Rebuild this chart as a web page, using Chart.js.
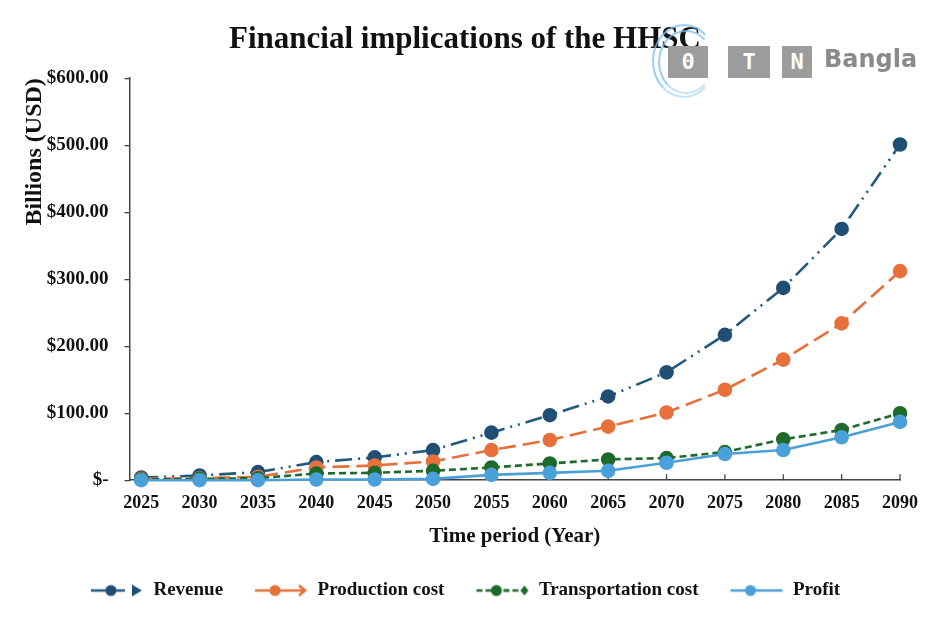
<!DOCTYPE html>
<html>
<head>
<meta charset="utf-8">
<script src="https://cdn.jsdelivr.net/npm/chart.js@4.4.1/dist/chart.umd.min.js"></script>
<style>
  html, body { margin: 0; padding: 0; background: #fff; }
  #wrap { position: relative; width: 930px; height: 620px; }
  #wm { position: absolute; left: 650px; top: 18px; width: 280px; height: 80px; pointer-events: none; }
  .ring { position: absolute; border-radius: 50%; border: 2px solid rgba(120,190,240,0.75); border-right-color: transparent; border-bottom-color: rgba(120,190,240,0.45); }
  .box { position: absolute; top: 28px; height: 32px; background: #9c9c9c; color: #fff; font: bold 22px "DejaVu Sans Mono", monospace; text-align: center; line-height: 32px; }
  .bangla { position: absolute; left: 174px; top: 27px; font: bold 24px "DejaVu Sans", sans-serif; color: #8a8a8a; }
</style>
</head>
<body>
<div id="wrap">
  <canvas id="c" width="930" height="620"></canvas>
  <div id="wm">
    <div class="ring" style="left:2px;top:6px;width:60px;height:70px;"></div>
    <div class="ring" style="left:8px;top:12px;width:52px;height:60px;"></div>
    <div class="box" style="left:18px;width:40px;">0</div>
    <div class="box" style="left:78px;width:42px;">T</div>
    <div class="box" style="left:132px;width:30px;">N</div>
    <div class="bangla">Bangla</div>
  </div>
</div>
<script>
const years = [2025, 2030, 2035, 2040, 2045, 2050, 2055, 2060, 2065, 2070, 2075, 2080, 2085, 2090];
const revenue = [4, 7, 12, 27, 34, 45, 71, 97, 125, 161, 217, 287, 375, 501];
const productionCost = [2, 3, 5, 19, 22, 28, 45, 60, 80, 101, 135, 180, 234, 312];
const transportationCost = [1, 2, 3, 10, 11, 14, 19, 25, 31, 33, 42, 61, 75, 100];
const profit = [0, 0, 0, 1, 1, 2, 8, 11, 14, 26, 39, 45, 64, 87];
const yTicks = [0, 100, 200, 300, 400, 500, 600];

const seriesNames = ['Revenue', 'Production cost', 'Transportation cost', 'Profit'];
const seriesValues = [revenue, productionCost, transportationCost, profit];
const lineColors = ['#215a7d', '#e5703b', '#1f6a2c', '#4a9fd6'];
const pointColors = ['#1f4f75', '#e8703a', '#1d6a2a', '#4aa0da'];
const dashes = [[17, 6, 2, 6, 2, 6], [17, 7], [7, 4], []];

function legendIcon(i) {
  const cv = document.createElement('canvas');
  cv.width = 54; cv.height = 16;
  const g = cv.getContext('2d');
  g.strokeStyle = lineColors[i];
  g.lineWidth = 2.6;
  g.setLineDash(i === 2 ? [6, 3] : []);
  g.beginPath(); g.moveTo(1, 8); g.lineTo(i === 3 ? 53 : 35, 8); g.stroke();
  g.setLineDash([]);
  g.fillStyle = pointColors[i];
  g.beginPath(); g.arc(21, 8, 5.5, 0, Math.PI * 2); g.fill();
  if (i === 0) {
    g.beginPath(); g.moveTo(42, 2); g.lineTo(52, 8); g.lineTo(42, 14); g.closePath(); g.fill();
  } else if (i === 1) {
    g.strokeStyle = lineColors[i]; g.lineWidth = 2.6;
    g.beginPath(); g.moveTo(35, 8); g.lineTo(51, 8); g.moveTo(45, 3); g.lineTo(51, 8); g.lineTo(45, 13); g.stroke();
  } else if (i === 2) {
    g.strokeStyle = lineColors[i];
    g.setLineDash([6, 3]);
    g.beginPath(); g.moveTo(28, 8); g.lineTo(45, 8); g.stroke();
    g.setLineDash([]);
    g.beginPath(); g.moveTo(49, 3); g.lineTo(53, 8); g.lineTo(49, 13); g.lineTo(45, 8); g.closePath(); g.fill();
  }
  return cv;
}
const icons = seriesNames.map((_, i) => legendIcon(i));

const datasets = seriesNames.map((name, i) => ({
  label: name,
  data: years.map((yr, k) => ({ x: yr, y: seriesValues[i][k] })),
  borderColor: lineColors[i],
  backgroundColor: pointColors[i],
  pointBackgroundColor: pointColors[i],
  pointBorderColor: pointColors[i],
  pointRadius: 6,
  pointHoverRadius: 6,
  borderWidth: 2.6,
  borderDash: dashes[i],
  tension: 0,
  fill: false,
  clip: false
}));
datasets.reverse();

const innerTicks = {
  id: 'innerTicks',
  beforeDatasetsDraw(chart) {
    const { ctx, chartArea, scales } = chart;
    ctx.save();
    ctx.strokeStyle = '#444';
    ctx.lineWidth = 1.3;
    years.forEach(yr => {
      const x = scales.x.getPixelForValue(yr);
      ctx.beginPath();
      ctx.moveTo(x, chartArea.bottom);
      ctx.lineTo(x, chartArea.bottom - 6);
      ctx.stroke();
    });
    ctx.restore();
  }
};

new Chart(document.getElementById('c'), {
  type: 'line',
  data: { datasets },
  plugins: [innerTicks],
  options: {
    responsive: false,
    animation: false,
    layout: { padding: { left: 20, right: 20, top: 8, bottom: 10 } },
    plugins: {
      title: {
        display: true,
        text: 'Financial implications of the HHSC',
        color: '#111',
        font: { family: 'Liberation Serif', size: 31, weight: 'bold' },
        padding: { top: 13, bottom: 20 }
      },
      legend: {
        position: 'bottom',
        reverse: true,
        labels: {
          usePointStyle: true,
          pointStyleWidth: 54,
          padding: 31,
          color: '#111',
          font: { family: 'Liberation Serif', size: 19, weight: 'bold' },
          generateLabels(chart) {
            return chart.data.datasets.map((ds, i) => {
              const idx = seriesNames.indexOf(ds.label);
              return {
                text: ds.label,
                pointStyle: icons[idx],
                fillStyle: 'transparent',
                strokeStyle: 'transparent',
                lineWidth: 0,
                fontColor: '#111',
                datasetIndex: i,
                hidden: false
              };
            });
          }
        }
      },
      tooltip: { enabled: false }
    },
    scales: {
      x: {
        type: 'linear',
        min: 2024,
        max: 2090,
        afterBuildTicks(scale) { scale.ticks = years.map(v => ({ value: v })); },
        ticks: {
          color: '#111',
          font: { family: 'Liberation Serif', size: 18, weight: 'bold' },
          padding: 12,
          maxRotation: 0,
          autoSkip: false,
          callback: v => String(v)
        },
        grid: { display: false, drawTicks: false },
        border: { display: true, color: '#444', width: 1.5 },
        title: {
          display: true,
          text: 'Time period (Year)',
          color: '#111',
          font: { family: 'Liberation Serif', size: 21, weight: 'bold' },
          padding: { top: -2, bottom: 1 }
        }
      },
      y: {
        min: 0,
        max: 600,
        afterBuildTicks(scale) { scale.ticks = yTicks.map(v => ({ value: v })); },
        ticks: {
          color: '#111',
          font: { family: 'Liberation Serif', size: 19, weight: 'bold' },
          padding: 16,
          callback: v => v === 0 ? '$-' : '$' + v.toFixed(2)
        },
        grid: { drawOnChartArea: false, drawTicks: true, tickLength: 5, color: '#444', lineWidth: 1.3 },
        border: { display: true, color: '#444', width: 1.5 },
        title: {
          display: true,
          text: 'Billions (USD)',
          align: 'end',
          color: '#111',
          font: { family: 'Liberation Serif', size: 24, weight: 'bold' },
          padding: { top: 0, bottom: -18 }
        }
      }
    }
  }
});
</script>
</body>
</html>
